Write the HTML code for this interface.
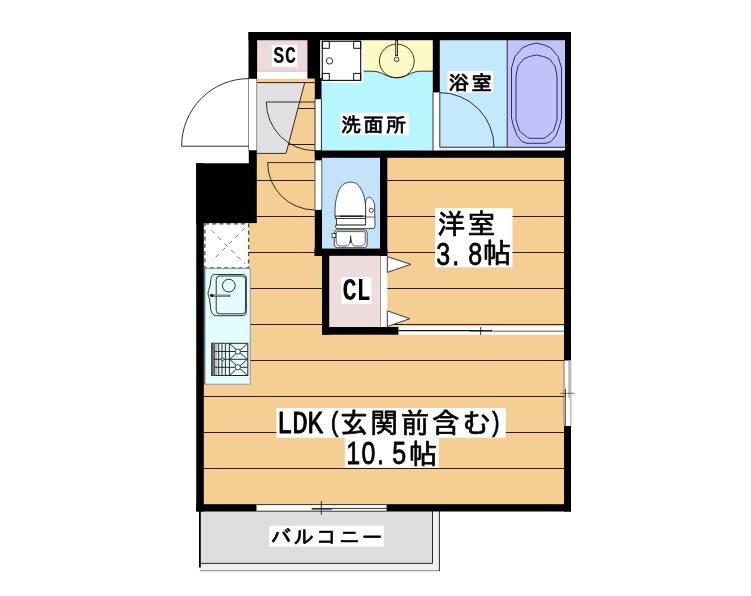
<!DOCTYPE html>
<html lang="ja">
<head>
<meta charset="utf-8">
<title>間取り図</title>
<style>
html,body{margin:0;padding:0;background:#fff;}
body{width:751px;height:596px;overflow:hidden;}
svg{display:block;}
text{font-family:"Liberation Sans","IPAGothic",sans-serif;fill:#000;}
.jp{font-family:"Liberation Sans","IPAGothic",sans-serif;}
.hw{font-family:"Liberation Mono","IPAGothic",monospace;}
.thin{fill:none;stroke:#1a1a1a;stroke-width:0.9;}
.tub{fill:none;stroke:#1c1c55;stroke-width:0.9;stroke-linejoin:round;}
.fl{stroke:#2e1a08;stroke-width:1;fill:none;}
</style>
</head>
<body>
<svg width="751" height="596" viewBox="0 0 751 596">
<rect x="0" y="0" width="751" height="596" fill="#ffffff"/>

<g id="floor"><rect x="256" y="157" width="309" height="348" fill="#f5ce93"/>
<rect x="203" y="222" width="54" height="283" fill="#f5ce93"/>
<rect x="256.7" y="78.6" width="58.5" height="146" fill="#f5ce93"/>
<line class="fl" x1="257" y1="108.5" x2="315" y2="108.5"/>
<line class="fl" x1="257" y1="144.5" x2="315" y2="144.5"/>
<line class="fl" x1="257" y1="180.5" x2="564" y2="180.5"/>
<line class="fl" x1="257" y1="216.5" x2="564" y2="216.5"/>
<line class="fl" x1="203.7" y1="252.5" x2="564" y2="252.5"/>
<line class="fl" x1="203.7" y1="288.5" x2="564" y2="288.5"/>
<line class="fl" x1="203.7" y1="324.5" x2="564" y2="324.5"/>
<line class="fl" x1="203.7" y1="360.5" x2="564" y2="360.5"/>
<line class="fl" x1="203.7" y1="396.5" x2="564" y2="396.5"/>
<line class="fl" x1="203.7" y1="432.5" x2="564" y2="432.5"/>
<line class="fl" x1="203.7" y1="468.5" x2="564" y2="468.5"/>
</g>
<g id="genkan">
<polygon points="256.5,83 304.6,83 288.4,144.6 286,153.6 256.5,153.6" fill="#e1e1e3"/>
<line class="fl" x1="257" y1="82.6" x2="315" y2="82.6"/>
<polyline class="thin" points="304.6,83 288.4,144.6 286,153.4 257,153.4" stroke="#333"/>
<line class="thin" x1="266.3" y1="102" x2="315" y2="102"/>
<path class="thin" d="M266.3 102 A48.7 48.7 0 0 0 315 150.7"/>
<line class="thin" x1="267.6" y1="162.6" x2="315" y2="162.6"/>
<path class="thin" d="M267.6 162.6 A47.4 47.4 0 0 0 315 210"/>
</g>
<g id="entrance">
<rect x="248.6" y="78.6" width="8.2" height="72" fill="#fff" stroke="#444" stroke-width="0.6"/>
<line class="thin" x1="181.6" y1="146.2" x2="248.8" y2="146.2"/>
<path class="thin" d="M181.6 146.2 A67.2 67.6 0 0 1 248.8 78.6"/>
</g>
<g id="sc"><rect x="257" y="40" width="50.2" height="31" fill="#eed9d9"/>
<rect x="257" y="71" width="50.2" height="7.6" fill="#ffffff"/>
<line x1="257" y1="71.2" x2="307" y2="71.2" stroke="#d8b8b8" stroke-width="1"/>
</g>
<g id="wash"><rect x="320" y="40" width="113" height="110.6" fill="#b8f6ff"/>
<path d="M363.3 40 H433 V71.2 H421 C410 71.2 408 77.6 396.5 77.6 C385 77.6 383 71.2 372 71.2 H363.3 Z" fill="#fdfac6"/>
<path class="thin" d="M363.3 71.2 H372 C383 71.2 385 77.6 396.5 77.6 C408 77.6 410 71.2 421 71.2 H433" stroke="#555"/>
<ellipse class="thin" cx="396.8" cy="61" rx="17.4" ry="16.9"/>
<line x1="396.6" y1="39" x2="396.6" y2="56" stroke="#222" stroke-width="2.8"/>
<line x1="396.6" y1="41" x2="396.6" y2="55" stroke="#eee" stroke-width="0.9"/>
<circle cx="396.6" cy="59.4" r="2.3" fill="#fff" stroke="#222" stroke-width="0.9"/>
<rect x="320.1" y="40" width="43.3" height="42.6" fill="#ffffff"/>
<rect x="322.3" y="41.3" width="38.4" height="39.1" fill="none" stroke="#111" stroke-width="1.1"/>
<rect x="322.3" y="41.3" width="7" height="7" fill="none" stroke="#111" stroke-width="1"/>
<rect x="353.7" y="41.3" width="7" height="7" fill="none" stroke="#111" stroke-width="1"/>
<rect x="322.3" y="73.4" width="7" height="7" fill="none" stroke="#111" stroke-width="1"/>
<rect x="353.7" y="73.4" width="7" height="7" fill="none" stroke="#111" stroke-width="1"/>
<circle class="thin" cx="329.5" cy="60.9" r="3.2"/>
<rect x="314.8" y="99.2" width="6.7" height="51.4" fill="#fff"/>
<path class="thin" stroke="#333" stroke-width="0.8" d="M315 99.2 V150.6 M321.4 99.2 V150.6"/>
</g>
<g id="bath"><rect x="439.5" y="40" width="126" height="110.6" fill="#c4e8fc"/>
<rect x="439.5" y="147.6" width="126" height="3" fill="#e4f3fd"/>
<rect x="507" y="40" width="58.5" height="107.3" fill="#c2c2fb"/>
<path class="thin" d="M507.2 40 V147.3 H565" stroke="#22224a" stroke-width="0.9"/>
<path class="tub" d="M536.5 43.1 L544.5 45 L550.8 48 L558 56.5 L561.5 68 V118 L559.5 126 L556 135.5 L551 141.5 L546 143.3 H527 L522 141.5 L517 135.5 L513.5 126 L511.5 118 V68 L515 56.5 L522.2 48 L528.5 45 Z"/>
<path class="tub" d="M536.5 55 L543.5 56.5 L549.5 59 L555 66 L557 76 V120 L553.5 131 L545.5 137.5 L543 138.3 H530 L527.5 137.5 L519.5 131 L516 120 V76 L518 66 L523.5 59 L529.5 56.5 Z"/>
<rect x="432.8" y="92.4" width="7" height="58.2" fill="#fff"/>
<path class="thin" stroke="#333" stroke-width="0.8" d="M433 92.4 V150.6"/>
<line class="thin" x1="439.8" y1="92.4" x2="439.8" y2="147.2"/>
<line class="thin" x1="439.8" y1="147.2" x2="507" y2="147.2"/>
<path class="thin" d="M439.8 92.6 A54.4 54.4 0 0 1 494 147"/>
</g>
<g id="toilet" fill="#fff" stroke="#1a1a1a" stroke-width="0.8"><rect x="321" y="157" width="59.5" height="92" fill="#c3e3fb" stroke="none"/>
<rect x="314.8" y="160.3" width="7.2" height="49.6" fill="#fff" stroke="none"/>
<path fill="none" stroke="#333" stroke-width="0.8" d="M315 160.3 V209.9 M321.8 160.3 V209.9"/>
<path d="M335.7 224.9 H365.6 V203 C366 199 367.5 197.2 369 197.2 C371.5 197.5 374 201 374.6 205 L375 224.9 L374.4 228 Q374 228.6 373 228.6 H337 Q335.7 228.6 335.7 227.4 Z"/>
<line x1="365.8" y1="217" x2="374.8" y2="217" stroke-width="0.7"/>
<circle cx="371.3" cy="210.4" r="2.1"/>
<path d="M335 216.2 V209.9 C335.2 205 335.6 201.5 336.4 198.5 C337.4 194 338.8 190 340.7 187.1 C343 183.8 346.5 182.1 350.6 182.1 C354.5 182.1 357.4 183.8 359.2 186.4 C361.6 189.6 363.2 193 364.2 197.1 C365.2 201 365.6 205 365.6 209.9 V216.2 Z"/>
<rect x="336.4" y="218.4" width="29.2" height="6.5"/>
<rect x="335.2" y="216.2" width="30.4" height="2.4"/>
<line x1="340" y1="216.3" x2="362.8" y2="216.3" stroke-width="1.3"/>
<rect x="334.3" y="229.9" width="32.8" height="17.8" rx="3.2"/>
<path fill="none" stroke-width="0.7" d="M337.2 231.6 H364 Q365.2 231.6 365.2 233 V241.5 C365.2 244.5 363.5 246 360.5 246 H355.5 C353.5 246 352.6 245 352 243.6 L350.7 238.5 L349.4 243.6 C348.8 245 347.9 246 346 246 H341 C338 246 336.2 244.5 336.2 241.5 V233 Q336.2 231.6 337.2 231.6 Z"/>
<line x1="350.7" y1="235.5" x2="350.7" y2="243" stroke-width="1"/>
<rect x="332.1" y="233.5" width="3.6" height="4.2" stroke-width="0.7"/>
</g>
<g id="cl"><rect x="328.5" y="255.5" width="52" height="72" fill="#eedcdc"/>
<rect x="380.5" y="255.8" width="6.8" height="71.4" fill="#fff"/>
<line x1="380.5" y1="255.8" x2="380.5" y2="327" stroke="#999" stroke-width="1"/>
<polygon points="387.3,256.6 410.8,264.4 387.3,272.4" fill="#fff" stroke="#222" stroke-width="0.9"/>
<polygon points="387.3,310.8 409.8,318.7 387.3,326.6" fill="#fff" stroke="#222" stroke-width="0.9"/>
</g>
<g id="slide"><rect x="398.4" y="326.4" width="166" height="8.4" fill="#fff"/>
<line x1="398.4" y1="330.6" x2="492" y2="330.6" stroke="#111" stroke-width="1.1"/>
<line x1="469.4" y1="331.2" x2="564" y2="331.2" stroke="#4a4a4a" stroke-width="0.9"/>
<line class="thin" x1="480.7" y1="327" x2="480.7" y2="335"/>
</g>
<g id="kitchen">
<rect x="203" y="222.5" width="46" height="46" fill="#fff"/>
<rect x="204.9" y="223.8" width="43.7" height="44" fill="#fff" stroke="#505050" stroke-width="1.3" stroke-dasharray="4.2 3"/>
<path d="M211.5 230.3 L245 264 M245 228 L212 261" stroke="#808080" stroke-width="1" stroke-dasharray="4.6 4.6" fill="none"/>
<rect x="204.4" y="268.6" width="45.8" height="115.6" fill="#e2fcff" stroke="#8a9090" stroke-width="0.9"/>
<line x1="204.8" y1="268.6" x2="204.8" y2="384.2" stroke="#555" stroke-width="1"/>
<path class="thin" stroke="#222" stroke-width="0.9" d="M214.5 274.5 H242.5 C245 274.5 246.3 275.8 246.3 278.3 V311.5 C246.3 314.4 244.6 315.7 242 315.7 H216.5 C212.5 315.7 210.6 312 210.4 306 L209.6 299 C207.6 296 207.6 291 209.4 288 L210.4 284 C210.6 278.3 211.5 274.5 214.5 274.5 Z"/>
<rect class="thin" stroke="#222" stroke-width="0.9" x="216.2" y="276" width="29.4" height="37.8" rx="3.5"/>
<circle class="thin" stroke="#222" stroke-width="0.9" cx="228.8" cy="285.6" r="6.4"/>
<line x1="211.5" y1="295.7" x2="230.3" y2="295.7" stroke="#333" stroke-width="2"/>
<line x1="214" y1="295.7" x2="229.6" y2="295.7" stroke="#ddd" stroke-width="0.7"/>
<circle cx="211.6" cy="295.4" r="1.7" fill="#222"/>
<rect x="211.6" y="343.3" width="36.2" height="32.2" fill="#e6fbff" stroke="#222" stroke-width="1"/>
<rect x="211.6" y="343.3" width="3.6" height="32.2" fill="#666"/>
<rect x="215.2" y="343.8" width="2" height="31.2" fill="#b5bcbc"/>
<path class="thin" stroke="#1a1a1a" stroke-width="0.8" d="M218.7 344 V375 M222 344 V375 M225.4 344 V375 M229.4 343.3 V375.5 M214.7 351.5 H247.5 M213.5 359.3 H247.8 M214.7 367.3 H247.5"/>
<path class="thin" stroke="#1a1a1a" stroke-width="0.8" d="M230 344 L247 359 M247 344 L230 359 M230 359.6 L247 375 M247 359.6 L230 375"/>
<circle cx="237.8" cy="351.6" r="2.6" fill="#e6fbff" stroke="#1a1a1a" stroke-width="0.8"/>
<circle cx="237.8" cy="367.2" r="2.6" fill="#e6fbff" stroke="#1a1a1a" stroke-width="0.8"/>
<circle cx="222.6" cy="359.3" r="1.3" fill="#e6fbff" stroke="#1a1a1a" stroke-width="0.8"/>
</g>
<g id="balcony">
<rect x="199.8" y="511" width="239.4" height="59.6" fill="#f0f0f0"/>
<rect x="199.8" y="511" width="232.7" height="52.4" fill="#dedede"/>
<path d="M199.8 563.4 H432.5 V511" fill="none" stroke="#2a2a2a" stroke-width="1"/>
<line x1="199.8" y1="570.6" x2="439.9" y2="570.6" stroke="#a0a0a0" stroke-width="1.2"/>
<line x1="439.4" y1="511" x2="439.4" y2="571" stroke="#2a2a2a" stroke-width="1"/>
<line x1="199.9" y1="511" x2="199.9" y2="567.6" stroke="#000" stroke-width="1.8"/>
</g>
<g id="walls" fill="#000">
<rect x="248.5" y="32" width="322.5" height="8.2"/>
<rect x="248.5" y="32" width="8.6" height="46.6"/>
<rect x="565" y="32" width="6" height="120"/>
<rect x="564" y="150" width="7" height="210.7"/>
<rect x="564" y="426" width="7" height="85.5"/>
<rect x="196.2" y="163.3" width="7.6" height="348.2"/>
<rect x="196.2" y="163.3" width="60.6" height="59.8"/>
<rect x="248.8" y="150.5" width="8" height="14"/>
<rect x="196.2" y="504.2" width="60.5" height="7.3"/>
<rect x="386.3" y="504.2" width="184.7" height="7.3"/>
<rect x="307.4" y="32" width="12.7" height="46.6"/>
<rect x="314.8" y="78" width="6.7" height="21.2"/>
<rect x="432.8" y="32" width="7" height="60.4"/>
<rect x="314.8" y="150.5" width="256.2" height="7.3"/>
<rect x="314.8" y="150.5" width="7.2" height="9.8"/>
<rect x="314.8" y="209.9" width="7.2" height="46"/>
<rect x="380" y="157" width="7.3" height="98.8"/>
<rect x="314.5" y="248.6" width="72.8" height="7.2"/>
<rect x="322" y="255" width="7.2" height="79.7"/>
<rect x="322" y="327" width="76.4" height="7.7"/>
</g>
<g id="windows">
<rect x="564" y="360.7" width="7" height="65.3" fill="#fff"/>
<line x1="564.1" y1="360.7" x2="564.1" y2="426" stroke="#7a5a30" stroke-width="0.8"/>
<rect x="568.2" y="360.7" width="3.2" height="37.5" fill="#bdbdbd"/>
<rect x="569.9" y="398" width="1.8" height="28" fill="#c6c6c6"/>
<line x1="565.4" y1="389" x2="565.4" y2="426" stroke="#444" stroke-width="0.9"/>
<line x1="560.5" y1="393.3" x2="574.5" y2="393.3" stroke="#333" stroke-width="0.7"/>
<line x1="565.4" y1="389" x2="565.4" y2="398" stroke="#333" stroke-width="0.7"/>
<rect x="256.7" y="504.4" width="129.6" height="7" fill="#fff"/>
<line class="thin" x1="256.7" y1="511.2" x2="386.3" y2="511.2"/>
<line class="thin" x1="256.7" y1="504.6" x2="386.3" y2="504.6"/>
<line class="thin" x1="311.7" y1="508.4" x2="386.3" y2="508.4"/>
<line class="thin" x1="311.7" y1="509.2" x2="332" y2="509.2"/>
<line class="thin" x1="321.3" y1="501" x2="321.3" y2="514.8"/>
</g>
<g id="labels" opacity="0.999">
<rect x="271.8" y="44.8" width="25.3" height="22" fill="#fff"/>
<text class="hw" text-anchor="middle" x="371.73 387.20" y="63" font-size="24.5" transform="scale(0.75,1)" font-weight="bold">SC</text>
<rect x="340.5" y="112.8" width="68.2" height="22.4" fill="#fff"/>
<text class="jp" text-anchor="middle" x="344.17 366.23 388.28" y="131.6" font-size="20" transform="scale(1.02,1)" stroke="#000" stroke-width="0.75" stroke-linejoin="round">洗面所</text>
<rect x="447.5" y="71.1" width="45.8" height="21.3" fill="#fff"/>
<text class="jp" text-anchor="middle" x="445.58 467.62" y="90" font-size="20.2" transform="scale(1.03,1)" stroke="#000" stroke-width="0.75" stroke-linejoin="round">浴室</text>
<rect x="341.4" y="277" width="30" height="27" fill="#fff"/>
<text class="hw" text-anchor="middle" x="453.90 472.34" y="300" font-size="30.8" transform="scale(0.77,1)" font-weight="bold">CL</text>
<rect x="435" y="208.2" width="77.5" height="59.1" fill="#fff"/>
<text class="jp" text-anchor="middle" x="450.90 481.50" y="233.6" font-size="28" stroke="#000" stroke-width="0.7" stroke-linejoin="round">洋室</text>
<text class="jp" text-anchor="middle" x="568.27 584.17 609.29" y="264.6" font-size="32" transform="scale(0.78,1)" stroke="#000" stroke-width="0.8" stroke-linejoin="round">3.8</text>
<text class="jp" text-anchor="middle" x="482.62" y="263.4" font-size="28" transform="scale(1.03,1)" stroke="#000" stroke-width="0.7" stroke-linejoin="round">帖</text>
<rect x="276.4" y="408" width="229.5" height="29.8" fill="#fff"/>
<rect x="344.8" y="437.6" width="94" height="30.2" fill="#fff"/>
<text class="hw" text-anchor="middle" x="347.13 365.79 384.45" y="433.5" font-size="31.5" transform="scale(0.82,1)" stroke="#000" stroke-width="0.9" stroke-linejoin="round">LDK</text>
<text class="jp" text-anchor="middle" x="393.59" y="431.5" font-size="27" transform="scale(0.85,1)" stroke="#000" stroke-width="0.7" stroke-linejoin="round">(</text>
<text class="jp" text-anchor="middle" x="354.00 384.60 415.20 445.80 476.40" y="433.2" font-size="28" stroke="#000" stroke-width="0.7" stroke-linejoin="round">玄関前含む</text>
<text class="jp" text-anchor="middle" x="583.35" y="431.5" font-size="27" transform="scale(0.85,1)" stroke="#000" stroke-width="0.7" stroke-linejoin="round">)</text>
<text class="jp" text-anchor="middle" x="452.88 472.50 487.63 511.73" y="464.4" font-size="32" transform="scale(0.78,1)" stroke="#000" stroke-width="0.8" stroke-linejoin="round">10.5</text>
<text class="jp" text-anchor="middle" x="410.87" y="464.2" font-size="28" transform="scale(1.03,1)" stroke="#000" stroke-width="0.7" stroke-linejoin="round">帖</text>
<rect x="269.2" y="525.8" width="114.8" height="20.8" fill="#fff"/>
<text class="jp" text-anchor="middle" x="267.76 289.38 311.00 332.62 354.24" y="544.2" font-size="19.6" transform="scale(1.05,1)" stroke="#000" stroke-width="0.7" stroke-linejoin="round">バルコニー</text>
</g>
</svg>
</body>
</html>
